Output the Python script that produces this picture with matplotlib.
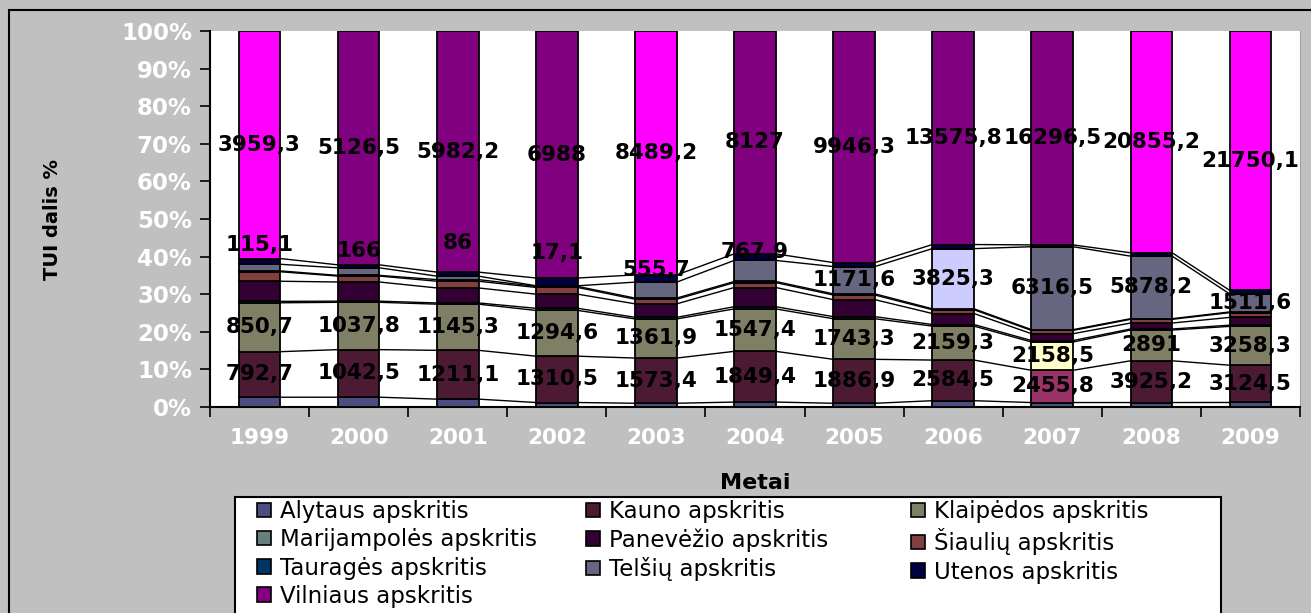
import numpy as np
import matplotlib
matplotlib.use("Agg")
import matplotlib.pyplot as plt
from matplotlib.patches import Rectangle, Patch
from matplotlib.collections import LineCollection

# --- data (TUI by county) ---
years = ['1999', '2000', '2001', '2002', '2003', '2004', '2005', '2006', '2007', '2008', '2009']
names = ['Alytaus apskritis', 'Kauno apskritis', 'Klaipėdos apskritis',
         'Marijampolės apskritis', 'Panevėžio apskritis', 'Šiaulių apskritis',
         'Tauragės apskritis', 'Telšių apskritis', 'Utenos apskritis',
         'Vilniaus apskritis']
alytaus = [170, 215, 195, 127, 130, 180, 160, 400, 340, 420, 380]
kauno = [792.7, 1042.5, 1211.1, 1310.5, 1573.4, 1849.4, 1886.9, 2584.5, 2455.8, 3925.2, 3124.5]
klaipedos = [850.7, 1037.8, 1145.3, 1294.6, 1361.9, 1547.4, 1743.3, 2159.3, 2158.5, 2891, 3258.3]
marijampoles = [25, 25, 30, 60, 55, 80, 90, 100, 110, 100, 100]
panevezio = [350, 420, 372, 400, 470, 700, 730, 700, 520, 560, 650]
siauliu = [165, 130, 167, 190, 160, 180, 200, 240, 250, 350, 400]
taurages = [15, 15, 40, 30, 40, 40, 50, 60, 60, 60, 60]
telsiu = [115.1, 166, 86, 17.1, 555.7, 767.9, 1171.6, 3825.3, 6316.5, 5878.2, 1511.6]
utenos = [100, 65, 100, 220, 250, 240, 170, 260, 140, 320, 300]
vilniaus = [3959.3, 5126.5, 5982.2, 6988, 8489.2, 8127, 9946.3, 13575.8, 16296.5, 20855.2, 21750.1]

series = [alytaus, kauno, klaipedos, marijampoles, panevezio, siauliu,
          taurages, telsiu, utenos, vilniaus]
labelled = [1, 2, 7, 9]   # series that carry value labels

# --- styles ---
base_colors = ['#4D4D80', '#4D1A33', '#7F7F66', '#668080', '#330033',
               '#804040', '#003366', '#666680', '#000040', '#800080']
# points drawn in their bright colour (series index, year index, colour)
highlights = [(9, 0, '#FF00FF'), (9, 4, '#FF00FF'), (9, 9, '#FF00FF'), (9, 10, '#FF00FF'),
              (1, 8, '#993366'), (2, 8, '#FFFFCC'), (7, 7, '#CCCCFF')]
# Telšių labels were moved up in the small-segment years (percentage points)
tel_shift = [5.9, 5.6, 9.3, 8.8, 5.3, 5.0, 0, 0, 0, 0, 0]

W, H = 1311, 613
fig = plt.figure(figsize=(W / 100, H / 100), dpi=100, facecolor='#C0C0C0')
ax = fig.add_axes([210 / W, 1 - 407 / H, 1090 / W, 376 / H])

vals = np.array(series, dtype=float)
pct = vals / vals.sum(axis=0) * 100
bottoms = np.vstack([np.zeros(len(years)), np.cumsum(pct, axis=0)[:-1]])
tops = np.cumsum(pct, axis=0)
x = np.arange(len(years))
bw = 0.42

for k in range(len(series)):
    cols = [base_colors[k]] * len(years)
    for s, i, c in highlights:
        if s == k:
            cols[i] = c
    ax.bar(x, pct[k], bw, bottom=bottoms[k], color=cols, edgecolor='black',
           linewidth=1.3, zorder=3)

# series lines between bars
segs = []
for k in range(len(series) - 1):
    for i in range(len(years) - 1):
        segs.append([(x[i] + bw / 2, tops[k][i]), (x[i + 1] - bw / 2, tops[k][i + 1])])
ax.add_collection(LineCollection(segs, colors='black', linewidths=1.0, zorder=2))

# value labels
for k in labelled:
    for i in range(len(years)):
        yy = bottoms[k][i] + pct[k][i] / 2
        if k == 7:
            yy += tel_shift[i]
        txt = f"{series[k][i]:g}".replace('.', ',')
        ax.text(x[i], yy, txt, ha='center', va='center', fontsize=15.5,
                fontweight='bold', color='black', zorder=6)

ax.set_xlim(-0.5, len(years) - 0.5)
ax.set_ylim(0, 100)
ax.set_yticks(np.arange(0, 101, 10))
ax.set_yticklabels([f"{v}%" for v in range(0, 101, 10)])
ax.set_xticks(x)
ax.set_xticklabels(years)
ax.set_xticks(np.arange(-0.5, len(years), 1), minor=True)
ax.tick_params(axis='y', direction='out', length=7, width=1.2, pad=6,
               labelsize=16.5, labelcolor='white')
ax.tick_params(axis='x', which='major', length=0, pad=15, labelsize=15.5,
               labelcolor='white')
ax.tick_params(axis='x', which='minor', direction='out', length=7, width=1.2)
for t in ax.get_xticklabels() + ax.get_yticklabels():
    t.set_fontweight('bold')

ax.spines['left'].set_linewidth(1.5)
ax.spines['bottom'].set_linewidth(1.5)
ax.spines['top'].set_visible(False)
ax.spines['right'].set_color('#A0A0A0')

ax.set_ylabel('TUI dalis %', fontsize=14, fontweight='bold')
ax.yaxis.set_label_coords(-0.136, 0.5)
ax.set_xlabel('Metai', fontsize=16, fontweight='bold')
ax.xaxis.set_label_coords(0.5, -0.175)

# outer chart border and legend frame
fig.add_artist(Rectangle((9 / W, -1), 2, 1 + (H - 10) / H, transform=fig.transFigure,
                         facecolor='none', edgecolor='black', linewidth=1.5))
fig.add_artist(Rectangle((235 / W, -1), (1221 - 235) / W, 1 + (H - 497) / H,
                         transform=fig.transFigure, facecolor='white',
                         edgecolor='black', linewidth=1.5, zorder=1))

handles = [Patch(facecolor=c, edgecolor='black', linewidth=1.2) for c in base_colors]
col_x = [257, 586, 911]
for c in range(3):
    idx = list(range(c, len(names), 3))
    leg = fig.legend([handles[j] for j in idx], [names[j] for j in idx],
                     loc='upper left', bbox_to_anchor=(col_x[c] / W, 1 - 500 / H),
                     frameon=False, fontsize=16.5, handlelength=0.6, handleheight=0.6,
                     handletextpad=0.4, labelspacing=0.23, borderpad=0, borderaxespad=0)
    leg.set_zorder(5)

fig.savefig('out.png', dpi=100, facecolor=fig.get_facecolor())
